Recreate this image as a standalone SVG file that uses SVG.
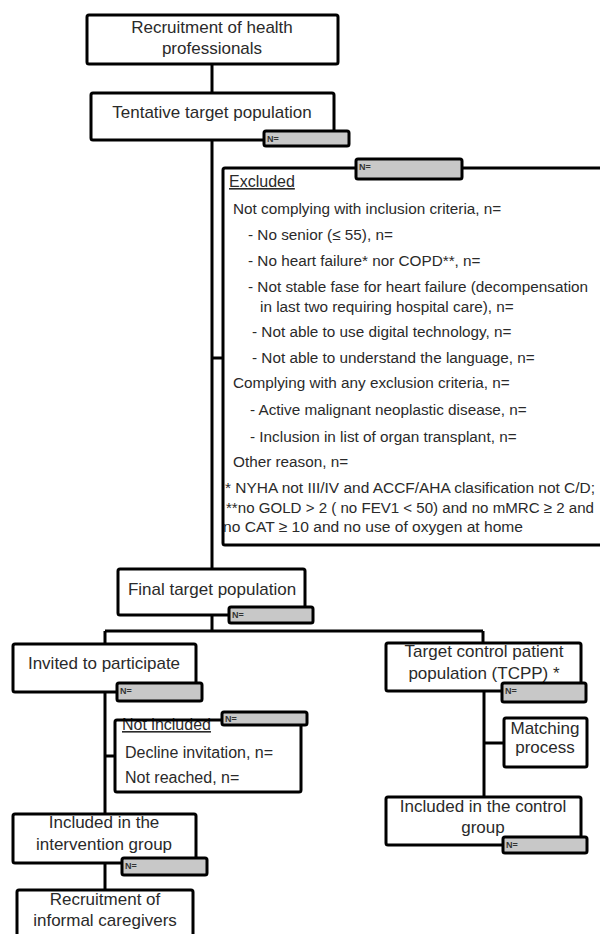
<svg xmlns="http://www.w3.org/2000/svg" width="600" height="934" viewBox="0 0 600 934">
<defs>
<style>
.box{fill:#fff;stroke:#000;stroke-width:3}
.frame{fill:none;stroke:#000;stroke-width:3}
.badge{fill:#c8c8c8;stroke:#000;stroke-width:3}
.conn{fill:none;stroke:#000;stroke-width:3}
.t{font-family:"Liberation Sans",Arial,sans-serif;font-size:17px;fill:#2a2a2a;text-anchor:middle}
.l{font-family:"Liberation Sans",Arial,sans-serif;font-size:15.3px;fill:#2a2a2a}
.m{font-family:"Liberation Sans",Arial,sans-serif;font-size:16px;fill:#2a2a2a}
.n{font-family:"Liberation Sans",Arial,sans-serif;font-size:9px;font-weight:bold;fill:#333}
.u{text-decoration:underline}
</style>
</defs>
<rect width="600" height="934" fill="#fff"/>
<g id="connectors">
<path class="conn" d="M212 64V93"/>
<path class="conn" d="M212 140V569"/>
<path class="conn" d="M212 358H223"/>
<path class="conn" d="M212 615V631M105 631H483M105 631V644M483 631V643"/>
<path class="conn" d="M105 692V814"/>
<path class="conn" d="M105 756H115"/>
<path class="conn" d="M105 863V890"/>
<path class="conn" d="M484 691V797"/>
<path class="conn" d="M484 743H504"/>
</g>
<g id="recruit-hp">
<rect class="box" x="87" y="15" width="251" height="49" rx="2"/>
<text class="t" x="212" y="33">Recruitment of health</text>
<text class="t" x="212" y="54">professionals</text>
</g>
<g id="tentative">
<rect class="box" x="91" y="93" width="243" height="47" rx="2"/>
<text class="t" x="212" y="118">Tentative target population</text>
<rect class="badge" x="264" y="131" width="85" height="15" rx="2"/>
<text class="n" x="267" y="142">N=</text>
</g>
<g id="excluded">
<rect class="box" x="223" y="168" width="392" height="377" rx="2"/>
<rect class="badge" x="356" y="159" width="106" height="20" rx="2"/>
<text class="n" x="359" y="170">N=</text>
<text class="m u" x="229" y="187">Excluded</text>
<text class="l" x="233" y="214">Not complying with inclusion criteria, n=</text>
<text class="l" x="248" y="240">- No senior (≤ 55), n=</text>
<text class="l" x="248" y="266">- No heart failure* nor COPD**, n=</text>
<text class="l" x="248" y="292">- Not stable fase for heart failure (decompensation</text>
<text class="l" x="260" y="312">in last two requiring hospital care), n=</text>
<text class="l" x="252" y="337">- Not able to use digital technology, n=</text>
<text class="l" x="252" y="363">- Not able to understand the language, n=</text>
<text class="l" x="233" y="388">Complying with any exclusion criteria, n=</text>
<text class="l" x="250" y="415">- Active malignant neoplastic disease, n=</text>
<text class="l" x="250" y="442">- Inclusion in list of organ transplant, n=</text>
<text class="l" x="233" y="467">Other reason, n=</text>
<text class="l" x="225" y="493" textLength="370" lengthAdjust="spacingAndGlyphs">* NYHA not III/IV and ACCF/AHA clasification not C/D;</text>
<text class="l" x="226" y="513" textLength="368" lengthAdjust="spacingAndGlyphs">**no GOLD &gt; 2 ( no FEV1 &lt; 50) and no mMRC ≥ 2 and</text>
<text class="l" x="223" y="532" textLength="300" lengthAdjust="spacingAndGlyphs">no CAT ≥ 10 and no use of oxygen at home</text>
</g>
<g id="final">
<rect class="box" x="118" y="569" width="187" height="46" rx="2"/>
<text class="t" x="212" y="595">Final target population</text>
<rect class="badge" x="229" y="607" width="84" height="16" rx="2"/>
<text class="n" x="232" y="618">N=</text>
</g>
<g id="invited">
<rect class="box" x="13" y="644" width="183" height="48" rx="2"/>
<text class="t" x="104" y="669">Invited to participate</text>
<rect class="badge" x="117" y="683" width="85" height="18" rx="2"/>
<text class="n" x="120" y="694">N=</text>
</g>
<g id="not-included">
<rect x="115" y="720" width="186" height="72" fill="#fff"/>
<text class="m u" x="122" y="730">Not included</text>
<rect class="frame" x="115" y="720" width="186" height="72" rx="2"/>
<rect class="badge" x="222" y="712" width="85" height="13" rx="2"/>
<text class="n" x="225" y="722">N=</text>
<text class="m" x="125" y="758">Decline invitation, n=</text>
<text class="m" x="125" y="783">Not reached, n=</text>
</g>
<g id="intervention">
<rect class="box" x="13" y="814" width="183" height="49" rx="2"/>
<text class="t" x="104" y="828">Included in the</text>
<text class="t" x="104" y="850">intervention group</text>
<rect class="badge" x="122" y="858" width="85" height="17" rx="2"/>
<text class="n" x="125" y="869">N=</text>
</g>
<g id="informal">
<rect class="box" x="17" y="890" width="176" height="52" rx="2"/>
<text class="t" x="105" y="905">Recruitment of</text>
<text class="t" x="105" y="926">informal caregivers</text>
</g>
<g id="tcpp">
<rect class="box" x="386" y="643" width="195" height="48" rx="2"/>
<text class="t" x="484" y="657">Target control  patient</text>
<text class="t" x="484" y="679">population (TCPP) *</text>
<rect class="badge" x="502" y="683" width="84" height="19" rx="2"/>
<text class="n" x="505" y="694">N=</text>
</g>
<g id="matching">
<rect class="box" x="504" y="718" width="83" height="49" rx="2"/>
<text class="t" x="545" y="734">Matching</text>
<text class="t" x="545" y="753">process</text>
</g>
<g id="control">
<rect class="box" x="386" y="797" width="195" height="48" rx="2"/>
<text class="t" x="483" y="812">Included in the  control</text>
<text class="t" x="483" y="833">group</text>
<rect class="badge" x="503" y="837" width="84" height="16" rx="2"/>
<text class="n" x="506" y="848">N=</text>
</g>
</svg>
